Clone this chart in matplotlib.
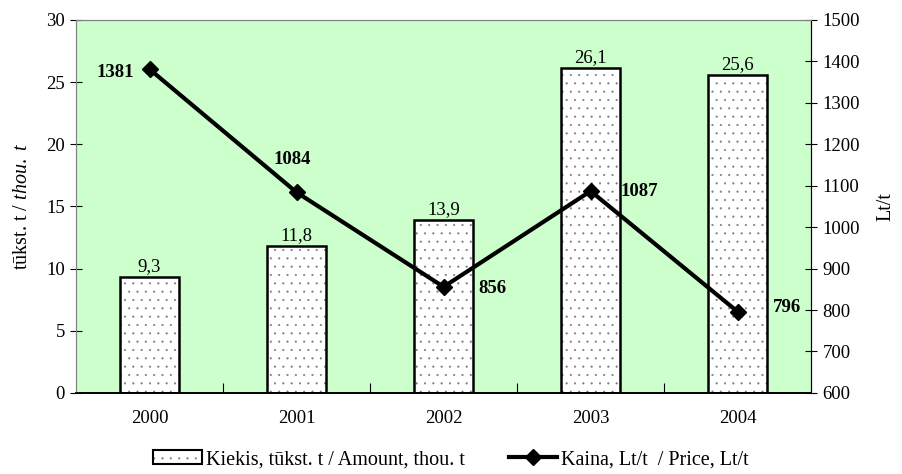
import matplotlib
matplotlib.use("Agg")
import matplotlib.pyplot as plt
from matplotlib.patches import Patch
from matplotlib.lines import Line2D

plt.rcParams['font.family'] = ['Liberation Serif', 'DejaVu Serif']
plt.rcParams['font.size'] = 13.5
plt.rcParams['mathtext.fontset'] = 'custom'
plt.rcParams['mathtext.rm'] = 'Liberation Serif'
plt.rcParams['mathtext.it'] = 'Liberation Serif:italic'
plt.rcParams['hatch.linewidth'] = 0.3

years = ['2000', '2001', '2002', '2003', '2004']
amount = [9.3, 11.8, 13.9, 26.1, 25.6]
price = [1381, 1084, 856, 1087, 796]
amount_labels = ['9,3', '11,8', '13,9', '26,1', '25,6']
# label offsets in pixels relative to each price marker
price_offsets = [(-16, -3), (-4, 33), (49, -2), (49, 0), (49, 4)]
price_ha = ['right', 'center', 'center', 'center', 'center']

fig = plt.figure(figsize=(9.02, 4.74), dpi=100)
ax1 = fig.add_axes([0.0843, 0.171, 0.815, 0.787])
ax1.set_facecolor('#ccffcc')

x = list(range(len(years)))
ax1.bar(x, amount, width=0.4, color='white', edgecolor='#7a7a7a', hatch='..', linewidth=0, zorder=2)
ax1.bar(x, amount, width=0.4, color='none', edgecolor='black', linewidth=1.8, zorder=3)
for xi, v, lab in zip(x, amount, amount_labels):
    ax1.annotate(lab, (xi, v), xytext=(0, 2), textcoords='offset pixels', ha='center', va='bottom')

ax1.set_xlim(-0.5, len(years) - 0.5)
ax1.set_ylim(0, 30)
ax1.set_yticks(range(0, 31, 5))
ax1.set_xticks([i + 0.5 for i in range(len(years) - 1)])
ax1.set_xticklabels([])
ax1.set_xticks(x, minor=True)
ax1.set_xticklabels(years, minor=True)
ax1.tick_params(axis='x', which='major', direction='in', length=7, color='black')
ax1.tick_params(axis='x', which='minor', length=0, pad=12)
ax1.tick_params(axis='y', direction='inout', length=9)
ax1.set_ylabel(r'tūkst. t / $\it{thou.\ t}$', fontsize=14.5, labelpad=10)

ax2 = ax1.twinx()
ax2.plot(x, price, color='black', lw=3, marker='D', markersize=8, zorder=4)
ax2.set_ylim(600, 1500)
ax2.set_yticks(range(600, 1501, 100))
ax2.tick_params(axis='y', direction='inout', length=9)
ax2.set_ylabel('Lt/t', fontsize=14.5, labelpad=12)
for xi, p, off, ha in zip(x, price, price_offsets, price_ha):
    ax2.annotate(str(p), (xi, p), xytext=off, textcoords='offset pixels',
                 ha=ha, va='center', fontweight='bold')

for ax in (ax1, ax2):
    ax.spines['top'].set_color('#808080')
    ax.spines['left'].set_color('#808080')
    ax.spines['right'].set_color('black')
    ax.spines['bottom'].set_color('black')
    ax.spines['bottom'].set_linewidth(1.2)

bar_handle = (Patch(facecolor='white', edgecolor='#7a7a7a', hatch='..', linewidth=0),
              Patch(facecolor='none', edgecolor='black', linewidth=1.5))
line_handle = Line2D([], [], color='black', lw=3, marker='D', markersize=8)
fig.legend([bar_handle, line_handle],
           ['Kiekis, tūkst. t / Amount, thou. t', 'Kaina, Lt/t  / Price, Lt/t'],
           loc='center', bbox_to_anchor=(0.5, 0.03), ncol=2, frameon=False, fontsize=14.5,
           handlelength=2.4, handletextpad=0.2, columnspacing=2.2)

fig.savefig('out.png', dpi=100)
